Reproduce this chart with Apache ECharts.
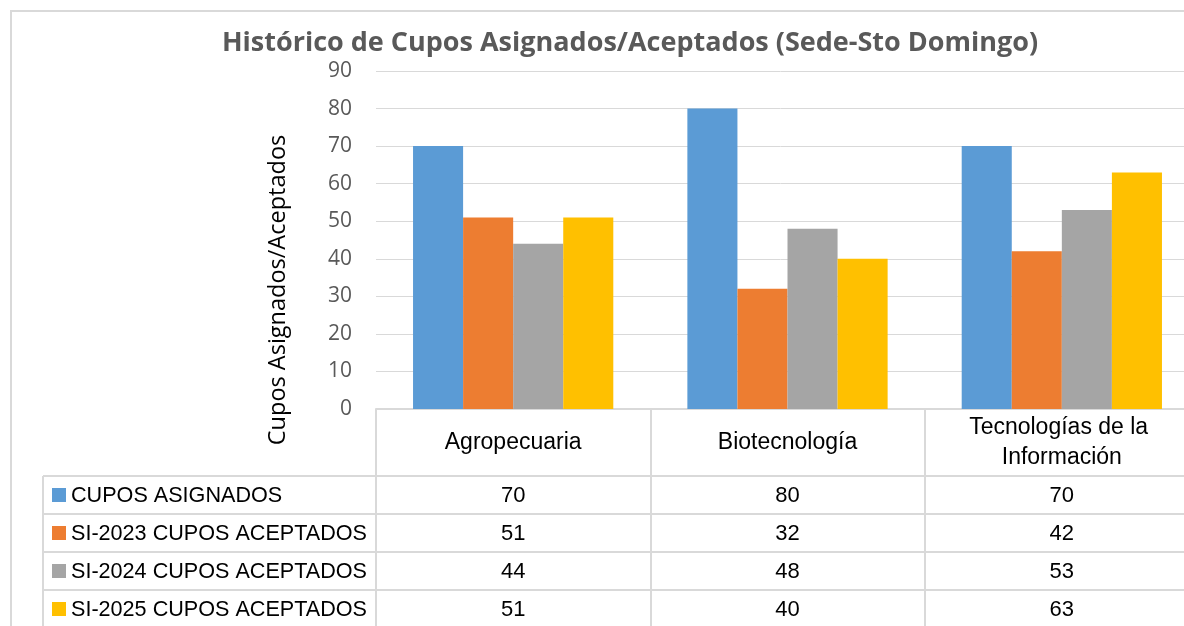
<!DOCTYPE html>
<html>
<head>
<meta charset="utf-8">
<script src="https://cdn.jsdelivr.net/npm/echarts@6/dist/echarts.min.js"></script>
<style>
  html, body { margin: 0; padding: 0; background: #fff; }
  #chart { width: 1184px; height: 626px; }
</style>
</head>
<body>
<div id="chart"></div>
<script>
// datos
const categories = ['Agropecuaria', 'Biotecnología', 'Tecnologías de la Información'];
const seriesNames = ['CUPOS ASIGNADOS', 'SI-2023 CUPOS ACEPTADOS', 'SI-2024 CUPOS ACEPTADOS', 'SI-2025 CUPOS ACEPTADOS'];
const asignados = [70, 80, 70];
const aceptados2023 = [51, 32, 42];
const aceptados2024 = [44, 48, 53];
const aceptados2025 = [51, 40, 63];
const yMin = 0;
const yMax = 90;
const yStep = 10;

const colors = ['#5B9BD5', '#ED7D31', '#A5A5A5', '#FFC000'];
const values = [asignados, aceptados2023, aceptados2024, aceptados2025];

const lineColor = '#d9d9d9';
const tableFont = '"Liberation Sans", Arial, sans-serif';
const headerBottom = 476;
const rowH = 38;

const chart = echarts.init(document.getElementById('chart'));

const option = {
  animation: false,
  color: colors,
  title: {
    text: 'Histórico de Cupos Asignados/Aceptados (Sede-Sto Domingo)',
    left: 625,
    textAlign: 'center',
    top: 25,
    textStyle: {
      fontFamily: '"Open Sans", sans-serif',
      fontWeight: 'bold',
      fontSize: 27,
      color: '#595959'
    }
  },
  grid: {
    left: 376,
    top: 71,
    width: 823,
    height: 338,
    outerBoundsMode: 'none'
  },
  xAxis: {
    type: 'category',
    data: categories,
    axisLine: { show: true, lineStyle: { color: lineColor, width: 2 } },
    // las marcas del eje sirven como líneas verticales de la tabla
    axisTick: { show: true, length: 230, lineStyle: { color: lineColor, width: 2 } },
    axisLabel: {
      interval: 0,
      margin: 34,
      verticalAlign: 'middle',
      width: 220,
      overflow: 'break',
      lineHeight: 30,
      fontSize: 23,
      fontFamily: tableFont,
      color: '#000'
    }
  },
  yAxis: {
    type: 'value',
    min: yMin,
    max: yMax,
    interval: yStep,
    axisLine: { show: false },
    axisTick: { show: false },
    axisLabel: {
      margin: 24,
      fontSize: 21,
      fontFamily: '"Open Sans", sans-serif',
      color: '#595959'
    },
    splitLine: { lineStyle: { color: lineColor, width: 1 } }
  },
  series: seriesNames.map((name, i) => ({
    name: name,
    type: 'bar',
    data: values[i],
    barGap: '0%',
    barCategoryGap: '27%',
    itemStyle: { color: colors[i] }
  }))
};

chart.setOption(option);

// tabla de datos bajo el gráfico
function buildTable() {
  const els = [];
  // marco del gráfico
  els.push({
    type: 'rect',
    shape: { x: 11, y: 11, width: 1300, height: 800 },
    style: { fill: 'none', stroke: lineColor, lineWidth: 2 },
    silent: true
  });
  // título del eje Y
  els.push({
    type: 'text',
    x: 278,
    y: 290,
    rotation: Math.PI / 2,
    style: {
      text: 'Cupos Asignados/Aceptados',
      fontSize: 23.5,
      fontFamily: '"Open Sans", sans-serif',
      fill: '#000',
      align: 'center',
      verticalAlign: 'middle'
    }
  });
  // línea vertical izquierda de la leyenda
  els.push({
    type: 'line',
    shape: { x1: 43, y1: headerBottom, x2: 43, y2: 640 },
    style: { stroke: lineColor, lineWidth: 2 }
  });
  for (let r = 0; r <= seriesNames.length; r++) {
    const y = headerBottom + r * rowH;
    els.push({
      type: 'line',
      shape: { x1: 43, y1: y, x2: 1200, y2: y },
      style: { stroke: lineColor, lineWidth: 2 }
    });
  }
  seriesNames.forEach((name, r) => {
    const cy = headerBottom + r * rowH + rowH / 2;
    els.push({
      type: 'rect',
      shape: { x: 52, y: cy - 7, width: 14, height: 14 },
      style: { fill: colors[r] }
    });
    els.push({
      type: 'text',
      x: 71,
      y: cy + 1,
      style: {
        text: name,
        fontSize: 21.6,
        fontFamily: tableFont,
        fill: '#000',
        verticalAlign: 'middle'
      }
    });
    values[r].forEach((v, c) => {
      const cx = chart.convertToPixel({ xAxisIndex: 0 }, c);
      els.push({
        type: 'text',
        x: cx,
        y: cy + 1,
        style: {
          text: String(v),
          fontSize: 22,
          fontFamily: tableFont,
          fill: '#000',
          align: 'center',
          verticalAlign: 'middle'
        }
      });
    });
  });
  chart.setOption({ graphic: { elements: els } });
}

buildTable();
</script>
</body>
</html>
